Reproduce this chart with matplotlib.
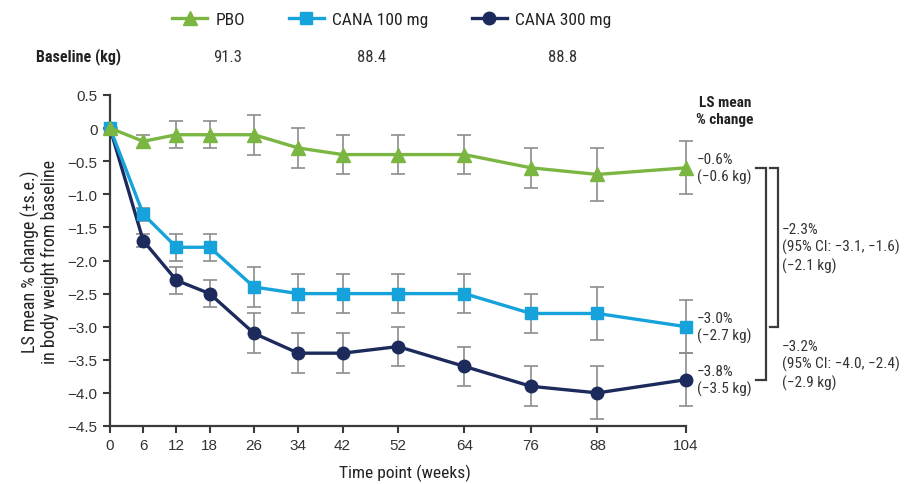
import matplotlib
matplotlib.use("Agg")
from matplotlib import pyplot as plt
from matplotlib.lines import Line2D

weeks = [0, 6, 12, 18, 26, 34, 42, 52, 64, 76, 88, 104]

pbo = [0, -0.2, -0.1, -0.1, -0.1, -0.3, -0.4, -0.4, -0.4, -0.6, -0.7, -0.6]
pbo_se = [0, 0.1, 0.2, 0.2, 0.3, 0.3, 0.3, 0.3, 0.3, 0.3, 0.4, 0.4]

cana100 = [0, -1.3, -1.8, -1.8, -2.4, -2.5, -2.5, -2.5, -2.5, -2.8, -2.8, -3.0]
cana100_se = [0, 0.1, 0.2, 0.2, 0.3, 0.3, 0.3, 0.3, 0.3, 0.3, 0.4, 0.4]

cana300 = [0, -1.7, -2.3, -2.5, -3.1, -3.4, -3.4, -3.3, -3.6, -3.9, -4.0, -3.8]
cana300_se = [0, 0.1, 0.2, 0.2, 0.3, 0.3, 0.3, 0.3, 0.3, 0.3, 0.4, 0.4]

yticks = [0.5, 0, -0.5, -1.0, -1.5, -2.0, -2.5, -3.0, -3.5, -4.0, -4.5]
ytick_labels = ["0.5", "0", "\u22120.5", "\u22121.0", "\u22121.5", "\u22122.0",
                "\u22122.5", "\u22123.0", "\u22123.5", "\u22124.0", "\u22124.5"]

series_names = ["PBO", "CANA 100 mg", "CANA 300 mg"]
baseline_kg = ["91.3", "88.4", "88.8"]
end_labels = ["\u22120.6%\n(\u22120.6 kg)", "\u22123.0%\n(\u22122.7 kg)", "\u22123.8%\n(\u22123.5 kg)"]
diff_100 = "\u22122.3%\n(95% CI: \u22123.1, \u22121.6)\n(\u22122.1 kg)"
diff_300 = "\u22123.2%\n(95% CI: \u22124.0, \u22122.4)\n(\u22122.9 kg)"

GREEN = "#7bb642"
BLUE = "#16a2da"
NAVY = "#1c2a5c"
GREY = "#8c8c8c"
DARK = "#3a3a3a"

plt.rcParams['font.family'] = ['Roboto Condensed', 'Liberation Sans', 'DejaVu Sans']
plt.rcParams['axes.unicode_minus'] = True
TICKFONT = ['Liberation Sans', 'DejaVu Sans']

fig = plt.figure(figsize=(9.05, 4.85), dpi=100)
ax = fig.add_axes([110 / 905, 1 - 427 / 485, 576 / 905, 331 / 485])

styles = [
    (cana300, cana300_se, NAVY, "o", 9),
    (cana100, cana100_se, BLUE, "s", 8.5),
    (pbo, pbo_se, GREEN, "^", 10),
]
for vals, se, col, mk, ms in styles:
    ax.errorbar(weeks, vals, yerr=se, fmt="none", ecolor=GREY, elinewidth=1.2,
                capsize=5, capthick=1.2, clip_on=False, zorder=2)
    ax.plot(weeks, vals, color=col, lw=2.4, marker=mk, ms=ms,
            clip_on=False, zorder=3)

ax.set_xlim(0, 104)
ax.set_ylim(-4.5, 0.5)
ax.set_xticks(weeks, labels=[str(w) for w in weeks], fontfamily=TICKFONT)
ax.set_yticks(yticks, labels=ytick_labels, fontfamily=TICKFONT)
ax.tick_params(axis="both", direction="out", length=5, width=1.5, color=DARK,
               labelsize=11, labelcolor="#333333", pad=4)
for side in ["top", "right"]:
    ax.spines[side].set_visible(False)
for side in ["left", "bottom"]:
    ax.spines[side].set_color(DARK)
    ax.spines[side].set_linewidth(1.6)

ax.set_xlabel("Time point (weeks)", fontsize=12.5, color="#222222", labelpad=6)
ax.xaxis.set_label_coords((405 - 110) / 576, -0.115)
ax.set_ylabel("LS mean % change (\u00b1s.e.)\nin body weight from baseline",
              fontsize=13, color="#222222", labelpad=6, linespacing=1.05)

# end-of-study labels
finals = [pbo[-1], cana100[-1], cana300[-1]]
for val, lab in zip(finals, end_labels):
    ax.annotate(lab, xy=(weeks[-1], val), xytext=(8, 0), textcoords="offset points",
                fontsize=11, color="#333333", va="center", ha="left",
                linespacing=1.25, annotation_clip=False)

ax.text(1.068, 1.0, "LS mean\n% change", transform=ax.transAxes, fontsize=11,
        fontweight="bold", ha="center", va="top", color="#222222", linespacing=1.25)

# brackets
bk = dict(color=DARK, lw=1.6, clip_on=False, solid_joinstyle="miter")
ax.plot([116.6, 118.5, 118.5, 116.6], [pbo[-1], pbo[-1], cana300[-1], cana300[-1]], **bk)
ax.plot([119.2, 120.6, 120.6, 119.2], [pbo[-1], pbo[-1], cana100[-1], cana100[-1]], **bk)
ax.text(121.3, -1.8, diff_100, fontsize=11, color="#333333", va="center", ha="left",
        linespacing=1.25)
ax.text(121.3, -3.57, diff_300, fontsize=11, color="#333333", va="center", ha="left",
        linespacing=1.25)

# legend row
handles = [
    Line2D([], [], color=GREEN, marker="^", ms=10, lw=2.4),
    Line2D([], [], color=BLUE, marker="s", ms=8.5, lw=2.4),
    Line2D([], [], color=NAVY, marker="o", ms=9, lw=2.4),
]
fig.legend(handles, series_names, loc="center", bbox_to_anchor=(392 / 905, 1 - 20 / 485),
           ncol=3, frameon=False, fontsize=12.5, handlelength=2.0, handletextpad=0.5,
           columnspacing=2.5, labelcolor="#222222")

# baseline row
fig.text(79 / 905, 1 - 57 / 485, "Baseline (kg)", fontsize=11.5, fontweight="bold",
         ha="center", va="center", color="#222222")
for xpix, b in zip([228, 372, 563], baseline_kg):
    fig.text(xpix / 905, 1 - 57 / 485, b, fontsize=12, ha="center", va="center",
             color="#333333")

fig.savefig("out.png", dpi=100)
